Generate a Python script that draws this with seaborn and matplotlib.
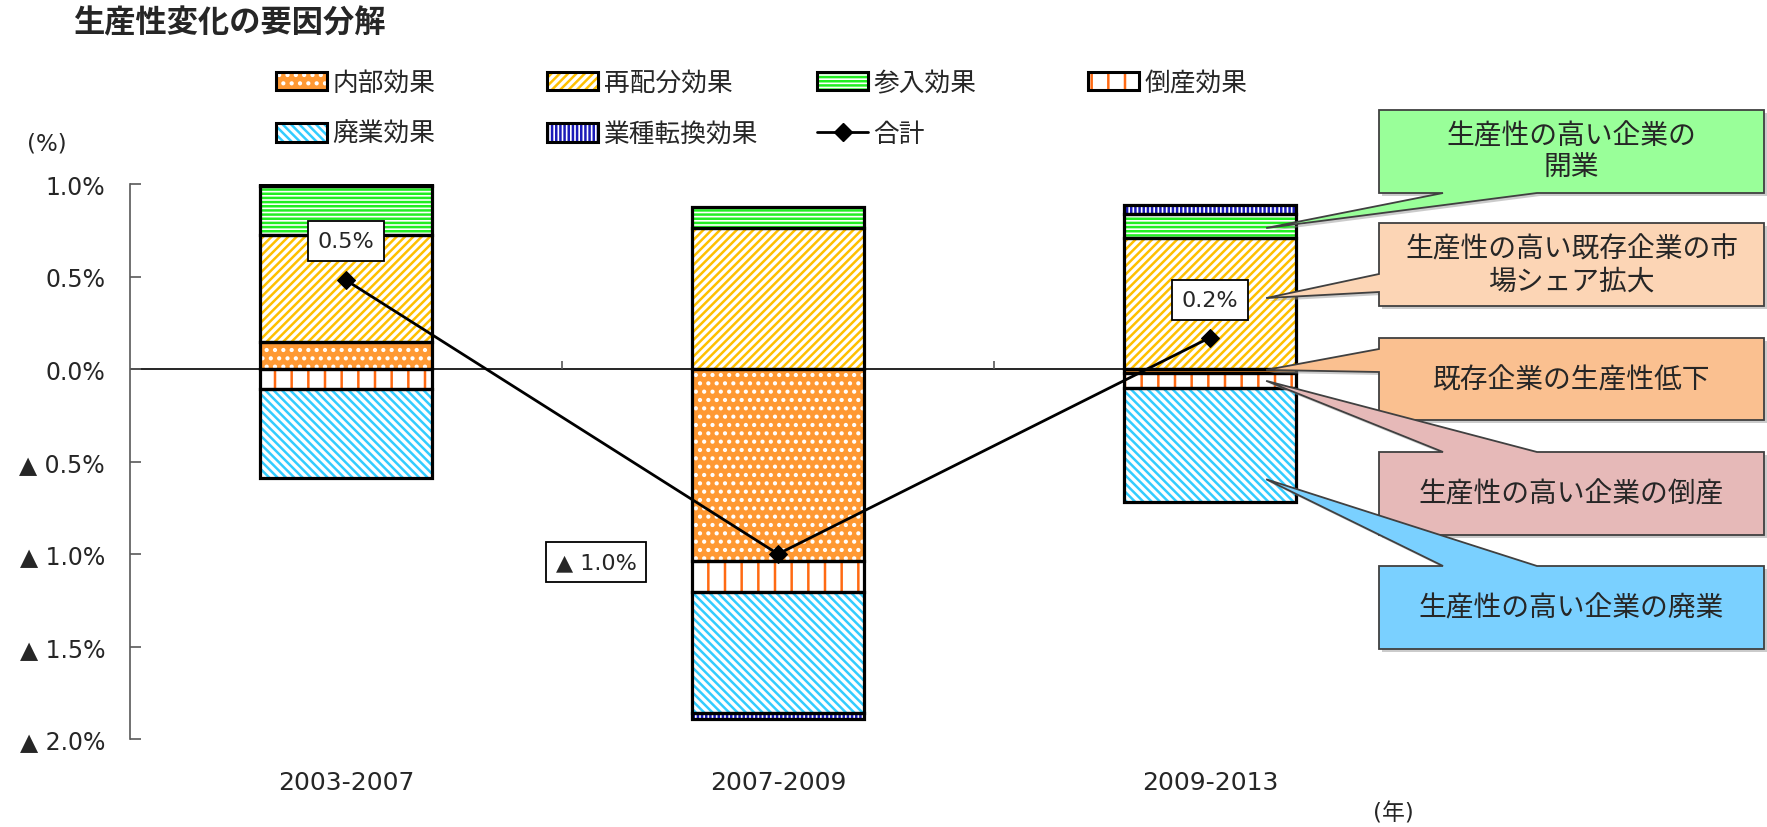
import numpy as np
import seaborn as sns
import matplotlib.pyplot as plt
from matplotlib.patches import Patch, Rectangle, Polygon
from matplotlib.lines import Line2D

periods = ['2003-2007', '2007-2009', '2009-2013']
names = ['内部効果', '再配分効果', '参入効果', '倒産効果', '廃業効果', '業種転換効果']
internal = [0.145, -1.04, -0.02]
realloc = [0.58, 0.76, 0.71]
entry = [0.265, 0.115, 0.13]
bankrupt = [-0.11, -0.165, -0.08]
closure = [-0.48, -0.655, -0.62]
switch = [0.01, -0.03, 0.045]
total = [0.48, -1.0, 0.17]
total_name = '合計'

callout_texts = ['生産性の高い企業の\n開業', '生産性の高い既存企業の市\n場シェア拡大', '既存企業の生産性低下',
                 '生産性の高い企業の倒産', '生産性の高い企業の廃業']

sns.set_theme(style='white')
plt.rcParams['font.family'] = ['DejaVu Sans', 'Noto Sans CJK JP']
plt.rcParams['hatch.linewidth'] = 1.8

faces = ['#FF9933', 'white', 'white', 'white', 'white', 'white']
hatch_cols = ['white', '#FFC000', '#22EE22', '#FF6A13', '#33CCFF', '#1A1AB8']
hatches = ['..', '////', '----', '|', '\\\\\\\\', '||||']

W, H = 1767, 828
fig = plt.figure(figsize=(W / 100, H / 100), dpi=100)
ax = fig.add_axes([130 / W, 1 - 740 / H, 1296 / W, 555 / H])

series = [internal, realloc, entry, bankrupt, closure, switch]
pos = np.arange(len(periods))
up = np.zeros(len(periods))
down = np.zeros(len(periods))
bottoms = []
for vals in series:
    v = np.array(vals)
    bottoms.append(np.where(v >= 0, up, down))
    up = up + np.clip(v, 0, None)
    down = down + np.clip(v, None, 0)

for vals, b, fc, hc, h in zip(series, bottoms, faces, hatch_cols, hatches):
    n0 = len(ax.patches)
    sns.barplot(x=pos, y=vals, bottom=b, native_scale=True, width=0.4, orient='x',
                color=fc, saturation=1, hatch=h, errorbar=None, ax=ax)
    for p in ax.patches[n0:]:
        p.set_edgecolor(hc)
        p.set_linewidth(0)

for p in list(ax.patches):
    ax.add_patch(Rectangle(p.get_xy(), p.get_width(), p.get_height(), fill=False,
                           ec='black', lw=2.3, zorder=3))

ax.axhline(0, color='black', lw=1.2, zorder=0.5)
ax.vlines(pos[:-1] + 0.5, 0, 0.045, color='#595959', lw=1.2)

sns.lineplot(x=pos, y=total, color='black', marker='D', markersize=9, linewidth=2,
             markeredgecolor='black', errorbar=None, ax=ax, zorder=4)


def pct(v):
    return ('▲ ' if v < -1e-9 else '') + f'{abs(v):.1f}%'


offsets = [(0, 39), (-182, -8), (0, 38)]
for i, v in enumerate(total):
    ax.annotate(pct(v), xy=(pos[i], v), xytext=offsets[i], textcoords='offset pixels',
                ha='center', va='center', fontsize=16, zorder=6,
                bbox=dict(boxstyle='square,pad=0.45', fc='white', ec='black', lw=1.3))

ax.set_xlim(-0.5, len(periods) - 0.5)
ax.set_ylim(-2.0, 1.0)
yt = np.arange(-2.0, 1.01, 0.5)
ax.set_yticks(yt, [pct(t) for t in yt])
ax.set_xticks(pos, periods)
ax.tick_params(axis='y', direction='in', length=8, width=1.2, color='#595959', pad=18,
               labelsize=17, left=True)
ax.tick_params(axis='x', length=0, pad=22, labelsize=18)
for s in ['top', 'right', 'bottom']:
    ax.spines[s].set_visible(False)
ax.spines['left'].set_color('#595959')
ax.spines['left'].set_linewidth(1.2)
ax.set_xlabel('')
ax.set_ylabel('')

# legend, one per column
def seg_handle(k):
    return (Patch(facecolor=faces[k], edgecolor=hatch_cols[k], lw=0, hatch=hatches[k]),
            Patch(fill=False, edgecolor='black', lw=2.2))


line_handle = Line2D([], [], color='black', lw=2, marker='D', markersize=9)
columns = [([seg_handle(0), seg_handle(4)], [names[0], names[4]]),
           ([seg_handle(1), seg_handle(5)], [names[1], names[5]]),
           ([seg_handle(2), line_handle], [names[2], total_name]),
           ([seg_handle(3)], [names[3]])]
for (hs, ls), x0 in zip(columns, [276, 547, 817, 1088]):
    fig.legend(hs, ls, loc='upper left', bbox_to_anchor=(x0 / W, 1 - 71 / H), frameon=False,
               fontsize=18.5, handlelength=2.0, handleheight=0.75, handletextpad=0.2,
               labelspacing=0.98, borderpad=0, borderaxespad=0)

fig.text(73 / W, 1 - 23 / H, '生産性変化の要因分解', fontsize=22.5, weight='bold',
         ha='left', va='center')
fig.text(47 / W, 1 - 144 / H, '(%)', fontsize=16.5, ha='center', va='center')
fig.text(1393 / W, 1 - 814 / H, '(年)', fontsize=16.5, ha='center', va='center')

# callouts
L, R = 1379, 1764
boxes = [((111, 194), 'bottom', (1443, 1537), 2, 0.4, '#99FF99'),
         ((224, 307), 'left', (275, 293), 1, 0.54, '#FCD5B5'),
         ((339, 421), 'left', (350, 373), 0, 0.25, '#FAC090'),
         ((453, 536), 'top', (1443, 1537), 3, 0.55, '#E6B9B8'),
         ((567, 650), 'top', (1443, 1537), 4, 0.8, '#7AD0FF')]
to_fig = fig.transFigure.inverted()
last = len(periods) - 1
for text, ((T, B), side, (b1, b2), k, frac, color) in zip(callout_texts, boxes):
    ty = bottoms[k][last] + frac * series[k][last]
    tip = ax.transData.transform((pos[last] + 0.13, ty))
    tip = (tip[0], H - tip[1])
    if side == 'bottom':
        pts = [(L, T), (R, T), (R, B), (b2, B), tip, (b1, B), (L, B)]
    elif side == 'left':
        pts = [(L, T), (R, T), (R, B), (L, B), (L, b2), tip, (L, b1)]
    else:
        pts = [(L, T), (b1, T), tip, (b2, T), (R, T), (R, B), (L, B)]
    for dx, fc, ec, z, a in [(3, '#999999', 'none', 5, 0.5), (0, color, '#404040', 6, 1)]:
        xy = to_fig.transform([(x + dx, H - y - dx) for x, y in pts])
        fig.add_artist(Polygon(xy, closed=True, transform=fig.transFigure, fc=fc, ec=ec,
                               lw=1.3, zorder=z, alpha=a))
    fig.text((L + R) / 2 / W, 1 - (T + B) / 2 / H, text, fontsize=20, ha='center',
             va='center', color='#262626', linespacing=1.15, zorder=7)

fig.savefig('out.png', dpi=100)
